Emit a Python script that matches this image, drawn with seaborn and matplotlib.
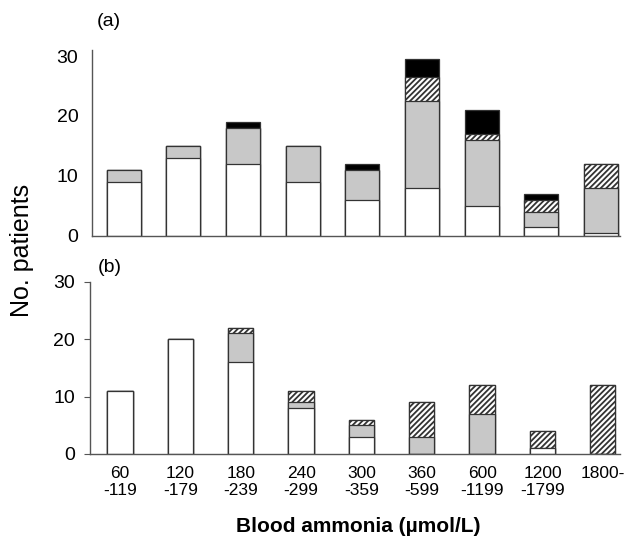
import numpy as np
import seaborn as sns
import matplotlib
matplotlib.use("Agg")
import matplotlib.pyplot as plt

# ammonia ranges (umol/L), one bar per range
groups = ["60\n-119", "120\n-179", "180\n-239", "240\n-299", "300\n-359",
          "360\n-599", "600\n-1199", "1200\n-1799", "1800-"]

# panel (a): no. patients per fill, bottom segment first
open_a = [9, 13, 12, 9, 6, 8, 5, 1.5, 0.5]
shaded_a = [2, 2, 6, 6, 5, 14.5, 11, 2.5, 7.5]
hatched_a = [0, 0, 0, 0, 0, 4, 1, 2, 4]
solid_a = [0, 0, 1, 0, 1, 3, 4, 1, 0]

# panel (b)
open_b = [11, 20, 16, 8, 3, 0, 0, 1, 0]
shaded_b = [0, 0, 5, 1, 2, 3, 7, 0, 0]
hatched_b = [0, 0, 1, 2, 1, 6, 5, 3, 12]
solid_b = [0, 0, 0, 0, 0, 0, 0, 0, 0]

yticks = [0, 10, 20, 30]

sns.set_style("white")
plt.rcParams['font.family'] = ['Liberation Sans', 'DejaVu Sans']
plt.rcParams['hatch.linewidth'] = 1.3
plt.rcParams['text.color'] = 'black'
plt.rcParams['xtick.color'] = 'black'
plt.rcParams['ytick.color'] = 'black'

edge = "#333333"
# (facecolor, hatch) for each segment, bottom to top
fills = [("white", None), ("#c8c8c8", None), ("white", "//////"), ("black", None)]


def draw_panel(ax, layers, width):
    # stacked bars: draw the cumulative totals from the top down
    cum = np.zeros(len(groups))
    tops = []
    for vals in layers:
        cum = cum + np.array(vals, dtype=float)
        tops.append(cum.copy())
    for top, (fc, hatch) in reversed(list(zip(tops, fills))):
        sns.barplot(x=groups, y=top, color=fc, hatch=hatch, width=width,
                    saturation=1, edgecolor=edge, linewidth=0.9,
                    errorbar=None, ax=ax)
    for side in ["top", "right"]:
        ax.spines[side].set_visible(False)
    for side in ["left", "bottom"]:
        ax.spines[side].set_color("#555555")
        ax.spines[side].set_linewidth(1.0)
    ax.set_yticks(yticks)
    ax.set_ylabel("")
    ax.set_xlabel("")


fig = plt.figure(figsize=(6.25, 5.4), dpi=100)
ax_a = fig.add_axes([0.1467, 0.5630, 0.8453, 0.3444])
ax_b = fig.add_axes([0.144, 0.1593, 0.848, 0.319])

draw_panel(ax_a, [open_a, shaded_a, hatched_a, solid_a], 0.57)
ax_a.set_xlim(-0.537, 8.32)
ax_a.set_ylim(0, 31)
ax_a.tick_params(axis="y", length=0, pad=9.6, labelsize=14)
ax_a.tick_params(axis="x", length=0, labelbottom=False)

draw_panel(ax_b, [open_b, shaded_b, hatched_b, solid_b], 0.42)
ax_b.set_xlim(-0.5, 8.285)
ax_b.set_ylim(0, 30)
ax_b.tick_params(axis="y", left=True, length=4, width=0.8, color="#555555",
                 labelcolor="black", pad=6.7, labelsize=14)
ax_b.tick_params(axis="x", length=0, pad=8.5, labelsize=12.5)

fig.text(109 / 625, 1 - 22 / 540, "(a)", fontsize=14, ha="center", va="center")
fig.text(109.5 / 625, 1 - 267 / 540, "(b)", fontsize=14, ha="center", va="center")
fig.text(22 / 625, 1 - 250 / 540, "No. patients", fontsize=18, rotation=90,
         ha="center", va="center")
fig.text(358 / 625, 1 - 527 / 540, "Blood ammonia (\u00b5mol/L)", fontsize=15,
         fontweight="bold", ha="center", va="center")

fig.savefig("out.png", dpi=100)
